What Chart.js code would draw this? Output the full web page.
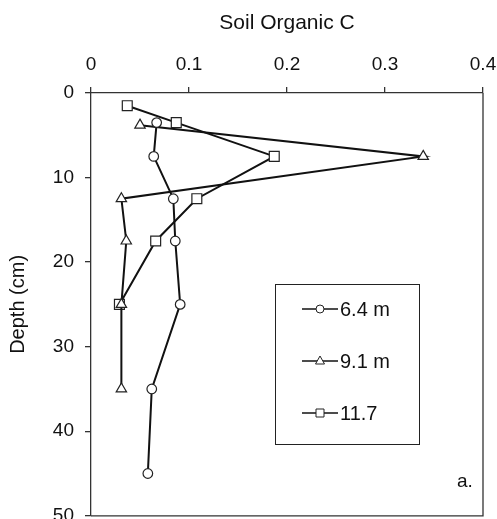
<!DOCTYPE html>
<html>
<head>
<meta charset="utf-8">
<script src="https://cdn.jsdelivr.net/npm/chart.js@4.4.1/dist/chart.umd.min.js"></script>
<style>
  html, body { margin: 0; padding: 0; background: #fff; overflow: hidden; }
  #wrap { width: 497px; height: 519px; overflow: hidden; }
  canvas { display: block; }
</style>
</head>
<body>
<div id="wrap"><canvas id="myChart" width="497" height="524"></canvas></div>
<script>
const seriesNames = ["6.4 m", "9.1 m", "11.7"];
const markerStyles = ["circle", "triangle", "rect"];

const depth64 = [3.5, 7.5, 12.5, 17.5, 25, 35, 45];
const soilC64 = [0.067, 0.064, 0.084, 0.086, 0.091, 0.062, 0.058];

const depth91 = [3.8, 7.5, 12.5, 17.5, 25, 35];
const soilC91 = [0.050, 0.339, 0.031, 0.036, 0.031, 0.031];

const depth117 = [1.5, 3.5, 7.5, 12.5, 17.5, 25];
const soilC117 = [0.037, 0.087, 0.187, 0.108, 0.066, 0.029];

const xTicks = [0, 0.1, 0.2, 0.3, 0.4];
const xTickLabels = ["0", "0.1", "0.2", "0.3", "0.4"];
const yTicks = [0, 10, 20, 30, 40, 50];
const yTickLabels = ["0", "10", "20", "30", "40", "50"];

const FONT = "'Liberation Sans', Arial, Helvetica, sans-serif";
const INK = "#111";

const toPoints = (xs, ys) => xs.map((v, i) => ({ x: v, y: ys[i] }));

const makeSet = (i, xs, ys, radius) => ({
  label: seriesNames[i],
  data: toPoints(xs, ys),
  showLine: true,
  borderColor: INK,
  borderWidth: 2,
  pointStyle: markerStyles[i],
  pointRadius: radius,
  pointHoverRadius: radius,
  pointBackgroundColor: "#fff",
  pointBorderColor: "#222",
  pointBorderWidth: 1.2,
  clip: false
});

// right + bottom edges of the plot box, legend box, panel letter
const framePlugin = {
  id: "frame",
  afterDraw(chart) {
    const ctx = chart.ctx;
    const a = chart.chartArea;
    ctx.save();
    ctx.strokeStyle = "#333";
    ctx.lineWidth = 1.3;
    ctx.beginPath();
    ctx.moveTo(a.right, a.top);
    ctx.lineTo(a.right, a.bottom);
    ctx.lineTo(a.left, a.bottom);
    ctx.stroke();

    const left = a.left + 184, top = a.top + 191, w = 144, h = 160;
    ctx.lineWidth = 1;
    ctx.strokeStyle = "#222";
    ctx.strokeRect(left + 0.5, top + 0.5, w, h);

    chart.data.datasets.forEach((ds, i) => {
      const y = top + 25 + i * 52;
      const cx = left + 45;
      ctx.beginPath();
      ctx.moveTo(left + 27, y);
      ctx.lineTo(left + 63, y);
      ctx.lineWidth = 1.6;
      ctx.strokeStyle = INK;
      ctx.stroke();

      ctx.beginPath();
      if (ds.pointStyle === "circle") {
        ctx.arc(cx, y, 4, 0, Math.PI * 2);
      } else if (ds.pointStyle === "triangle") {
        ctx.moveTo(cx, y - 5);
        ctx.lineTo(cx + 4.5, y + 3);
        ctx.lineTo(cx - 4.5, y + 3);
        ctx.closePath();
      } else {
        ctx.rect(cx - 4, y - 4, 8, 8);
      }
      ctx.fillStyle = "#fff";
      ctx.fill();
      ctx.lineWidth = 1;
      ctx.strokeStyle = "#222";
      ctx.stroke();

      ctx.fillStyle = INK;
      ctx.font = "20px " + FONT;
      ctx.textAlign = "left";
      ctx.textBaseline = "middle";
      ctx.fillText(ds.label, left + 65, y + 1);
    });

    ctx.font = "19px " + FONT;
    ctx.fillText("a.", a.right - 26, a.bottom - 34);
    ctx.restore();
  }
};

const ctx = document.getElementById("myChart").getContext("2d");

const myChart = new Chart(ctx, {
  type: "scatter",
  data: {
    datasets: [
      makeSet(0, soilC64, depth64, 4.8),
      makeSet(1, soilC91, depth91, 6),
      makeSet(2, soilC117, depth117, 7)
    ]
  },
  options: {
    responsive: false,
    devicePixelRatio: 1,
    animation: false,
    layout: { padding: { left: 0, top: 0, right: 14, bottom: 0 } },
    plugins: {
      legend: { display: false },
      tooltip: { enabled: false }
    },
    scales: {
      x: {
        type: "linear",
        position: "top",
        min: 0,
        max: 0.4,
        afterBuildTicks: (scale) => { scale.ticks = xTicks.map(v => ({ value: v })); },
        afterFit: (scale) => { scale.height = 93; scale.paddingLeft = 0; scale.paddingRight = 0; },
        ticks: {
          color: INK,
          font: { family: FONT, size: 19 },
          padding: 11,
          maxRotation: 0,
          callback: (v, i) => xTickLabels[i]
        },
        grid: { drawOnChartArea: false, drawTicks: true, tickLength: 6, color: "#333", lineWidth: 1.3 },
        border: { display: true, color: "#333", width: 1.3 },
        title: {
          display: true,
          text: "Soil Organic C",
          color: INK,
          font: { family: FONT, size: 21 },
          padding: { top: 11, bottom: 0 }
        }
      },
      y: {
        type: "linear",
        position: "left",
        reverse: true,
        min: 0,
        max: 50,
        afterBuildTicks: (scale) => { scale.ticks = yTicks.map(v => ({ value: v })); },
        afterFit: (scale) => { scale.width = 91; scale.paddingTop = 0; scale.paddingBottom = 0; },
        ticks: {
          color: INK,
          font: { family: FONT, size: 19 },
          padding: 11,
          callback: (v, i) => yTickLabels[i]
        },
        grid: { drawOnChartArea: false, drawTicks: true, tickLength: 6, color: "#333", lineWidth: 1.3 },
        border: { display: true, color: "#333", width: 1.3 },
        title: {
          display: true,
          text: "Depth (cm)",
          color: INK,
          font: { family: FONT, size: 20 },
          padding: { top: 6, bottom: 0 }
        }
      }
    }
  },
  plugins: [framePlugin]
});
</script>
</body>
</html>
